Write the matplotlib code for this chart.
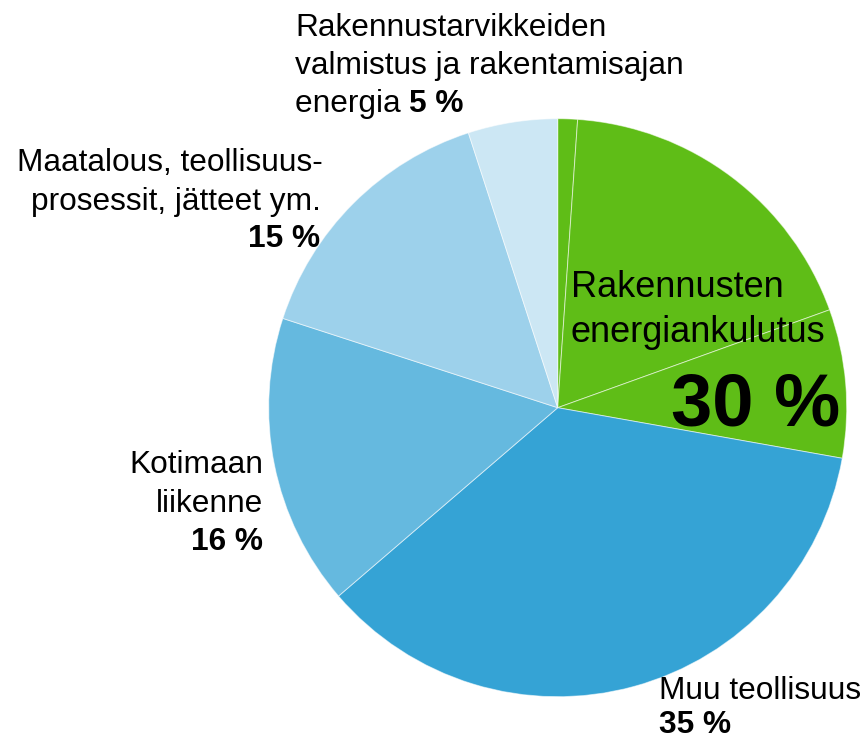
import matplotlib
matplotlib.use("Agg")
import matplotlib.pyplot as plt

# Data (shares as drawn, clockwise from 12 o'clock)
slice_names = ["Rakennusten energiankulutus a", "Rakennusten energiankulutus b",
               "Rakennusten energiankulutus c", "Muu teollisuus", "Kotimaan liikenne",
               "Maatalous, teollisuusprosessit, jätteet ym.",
               "Rakennustarvikkeiden valmistus ja rakentamisajan energia"]
slice_values = [1.1, 18.4, 8.3, 35.9, 16.3, 15.0, 5.0]
slice_colors = ["#5FBD17", "#5FBD17", "#5FBD17", "#35A3D5", "#65B9DF", "#9DD1EB", "#CCE7F4"]

W, H = 867, 741
fig = plt.figure(figsize=(W / 100, H / 100), dpi=100)
ax = fig.add_axes([0, 0, 1, 1])
ax.set_xlim(0, W)
ax.set_ylim(0, H)
ax.set_aspect("equal")
ax.axis("off")

cx, cy, r = 557.7, H - 407.7, 289
ax.pie(slice_values, colors=slice_colors, startangle=90, counterclock=False,
       center=(cx, cy), radius=r, frame=True,
       wedgeprops=dict(linewidth=0.7, edgecolor=(1, 1, 1, 0.55)))
ax.set_xlim(0, W)
ax.set_ylim(0, H)
ax.axis("off")

FONT = "Liberation Sans"
FS = 22.8


def txt(x, y, s, ha="left", size=FS, weight="normal"):
    return ax.text(x, H - y, s, ha=ha, va="baseline", fontsize=size,
                   fontweight=weight, family=FONT, color="black")


# Top label
txt(295, 36, "Rakennustarvikkeiden")
txt(295, 74, "valmistus ja rakentamisajan")
t = txt(295, 112, "energia ")
ax.annotate("5 %", xy=(1, 0), xycoords=t, ha="left", va="bottom",
            fontsize=FS, fontweight="bold", family=FONT)

# Maatalous label
txt(323, 171, "Maatalous, teollisuus-", ha="right")
txt(321, 210, "prosessit, jätteet ym.", ha="right")
txt(320, 247, "15 %", ha="right", weight="bold")

# Kotimaan liikenne
txt(263, 473, "Kotimaan", ha="right")
txt(263, 512, "liikenne", ha="right")
txt(263, 550, "16 %", ha="right", weight="bold")

# Muu teollisuus
txt(659, 699, "Muu teollisuus")
txt(659, 733, "35 %", weight="bold")

# Rakennusten energiankulutus
txt(571, 297, "Rakennusten", size=26)
txt(571, 342, "energiankulutus", size=26)
txt(840, 425, "30 %", ha="right", size=53.5, weight="bold")

fig.savefig("out.png", dpi=100)
